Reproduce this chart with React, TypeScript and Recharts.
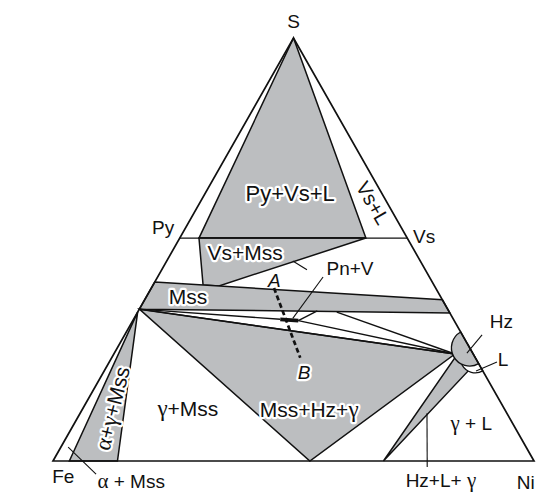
import React from 'react';
import { ScatterChart, Scatter, XAxis, YAxis } from 'recharts';

// Compositions in at.%: [S, Ni]  (Fe = 100 - S - Ni)
type Comp = [number, number];

const CORNER_S: Comp = [100, 0];
const CORNER_FE: Comp = [0, 0];
const CORNER_NI: Comp = [0, 100];

const PY: Comp = [52.7, 0];
const VS: Comp = [52.7, 47.3];
const M0: Comp = [35.9, 0];
const H0: Comp = [25.3, 70.9];

const PY_VS_L: Comp[] = [CORNER_S, [52.7, 4.0], [52.7, 38.7]];
const VS_MSS: Comp[] = [[52.7, 4.0], [52.7, 38.7], [41.4, 13.8], [41.6, 10.4]];
const MSS_BAND: Comp[] = [[42.3, 0], [38.1, 61.9], [35.0, 65.0], M0];
const MSS_HZ_GAMMA: Comp[] = [M0, H0, [0, 53.4]];
const ALPHA_GAMMA_MSS: Comp[] = [[35.2, 0], [0, 3.4], [0, 13.4]];
const HZ_L_GAMMA: Comp[] = [[0, 68.7], [24.8, 71.4], [22.0, 75.9]];
const PN_V: Comp[] = [[33.5, 30.5], [33.2, 34.4]];
const HZ_DIAMETER: Comp[] = [[30.5, 69.5], [23.0, 77.0]];
const L_DIAMETER: Comp[] = [[27.5, 72.5], [21.3, 78.7]];
const SECTION_AB: Comp[] = [[40.9, 25.5], [24.4, 39.2]];

const TIE_LINES: Comp[][] = [
  [PY, VS],
  [M0, PN_V[0]],
  [PN_V[1], [35.5, 37.2]],
  [[35.2, 41.4], H0],
  [PN_V[1], H0],
  [M0, H0],
];

const LEADERS: Comp[][] = [
  [[47.3, 26.2], [45.2, 30.2]],
  [[43.5, 34.4], [33.7, 33.0]],
  [[29.8, 74.3], [25.5, 73.3]],
  [[23.4, 80.6], [21.3, 77.3]],
  [[3.3, 1.5], [-3.1, 10.5]],
  [[11.3, 72.1], [-1.4, 78.5]],
];

const LABEL_TEXTS = [
  'S', 'Py', 'Vs', 'Fe', 'Ni', 'α + Mss', 'α+γ+Mss', 'γ+Mss', 'Mss', 'Vs+Mss',
  'Pn+V', 'A', 'B', 'Py+Vs+L', 'Vs+L', 'Hz', 'L', 'γ + L', 'Hz+L+ γ', 'Mss+Hz+γ',
];
const LABEL_AT: Comp[] = [
  [104.0, -2.0], [55.4, -4.8], [53.3, 50.5], [-3.5, 3.9], [-5.0, 100.8],
  [-4.7, 18.6], [12.5, 6.0], [12.5, 21.8], [38.9, 8.6], [49.3, 15.3],
  [45.7, 38.9], [42.8, 24.6], [21.0, 41.7], [63.4, 17.6], [61.0, 36.0],
  [33.0, 76.7], [24.1, 81.5], [8.9, 82.5], [-4.5, 82.9], [12.3, 47.1],
];

// ---- layout (pixels of the triangle corners inside the 536x492 canvas)
const W = 536;
const H = 492;
const FRAME = { left: 53, right: 534, base: 461, apex: 38 };
const X_DOMAIN = [-FRAME.left / (FRAME.right - FRAME.left), (W - FRAME.left) / (FRAME.right - FRAME.left)];
const Y_DOMAIN = [-(H - FRAME.base) / (FRAME.base - FRAME.apex), FRAME.base / (FRAME.base - FRAME.apex)];

const GRAY = '#bcbec0';
const INK = '#111';
const FONT = '"Liberation Sans", Arial, Helvetica, sans-serif';
const GREEK_FONT = '"Liberation Serif", "Times New Roman", serif';

const toXY = (c: Comp, i = 0) => ({ x: (c[1] + c[0] / 2) / 100, y: c[0] / 100, i });

const noPoint = () => <g />;

const pathOf = (pts: { x: number; y: number }[], closed: boolean) =>
  pts.map((p, i) => `${i ? 'L' : 'M'}${p.x},${p.y}`).join(' ') + (closed ? ' Z' : '');

const polyLine =
  (opts: { fill?: string; stroke?: string; width?: number; closed?: boolean; dash?: string }) =>
  (props: any) =>
    (
      <path
        d={pathOf(props.points, !!opts.closed)}
        fill={opts.fill ?? 'none'}
        stroke={opts.stroke ?? 'none'}
        strokeWidth={opts.width ?? 1}
        strokeDasharray={opts.dash}
        strokeLinejoin="miter"
      />
    );

const halfDisk = (fill: string) => (props: any) => {
  const [p1, p2] = props.points;
  const r = Math.hypot(p2.x - p1.x, p2.y - p1.y) / 2;
  return (
    <path
      d={`M${p1.x},${p1.y} A${r},${r} 0 0 0 ${p2.x},${p2.y} Z`}
      fill={fill}
      stroke={INK}
      strokeWidth={1.4}
    />
  );
};

const HALO = new Set(['Py+Vs+L', 'Vs+Mss', 'Mss', 'α+γ+Mss', 'Mss+Hz+γ', 'B']);
const ITALIC = new Set(['A', 'B']);
const SIZE: Record<string, number> = {
  'Py+Vs+L': 22, 'Vs+Mss': 21, Mss: 21, 'α+γ+Mss': 21, 'Mss+Hz+γ': 21, 'γ+Mss': 21, 'Vs+L': 20,
};
const ROTATION: Record<string, number> = { 'α+γ+Mss': -76, 'Vs+L': 60 };

const runs = (text: string) => {
  const out: { t: string; greek: boolean }[] = [];
  for (const ch of text) {
    const greek = /[αγ]/.test(ch);
    const last = out[out.length - 1];
    if (last && last.greek === greek) last.t += ch;
    else out.push({ t: ch, greek });
  }
  return out;
};

const labelShape = (text: string) => (props: any) => {
  const { cx, cy } = props;
  const rot = ROTATION[text] ?? 0;
  const size = SIZE[text] ?? 19;
  const halo = HALO.has(text);
  return (
    <text
      x={cx}
      y={cy}
      textAnchor="middle"
      dominantBaseline="central"
      fontFamily={FONT}
      fontSize={size}
      fontStyle={ITALIC.has(text) ? 'italic' : 'normal'}
      fill={INK}
      stroke={halo ? '#fff' : 'none'}
      strokeWidth={halo ? 4.5 : 0}
      strokeLinejoin="round"
      paintOrder="stroke"
      style={{ whiteSpace: 'pre' }}
      transform={rot ? `rotate(${rot} ${cx} ${cy})` : undefined}
    >
      {runs(text).map((r, k) => (
        <tspan key={k} fontFamily={r.greek ? GREEK_FONT : FONT} fontSize={r.greek ? size + 2 : size}>
          {r.t}
        </tspan>
      ))}
    </text>
  );
};

const Poly = (key: string, pts: Comp[], line: any) => (
  <Scatter
    key={key}
    data={pts.map(toXY)}
    line={line}
    lineType="joint"
    shape={noPoint}
    isAnimationActive={false}
  />
);

const region = { fill: GRAY, stroke: INK, width: 1.5, closed: true };

export default function App() {
  return (
    <div style={{ position: 'absolute', left: 0, top: 0, width: W, height: H, background: '#fff' }}>
      <ScatterChart width={W} height={H} margin={{ top: 0, right: 0, bottom: 0, left: 0 }}>
        <XAxis type="number" dataKey="x" domain={X_DOMAIN} hide />
        <YAxis type="number" dataKey="y" domain={Y_DOMAIN} hide />

        {Poly('pyvsl', PY_VS_L, polyLine(region))}
        {Poly('vsmss', VS_MSS, polyLine(region))}
        {Poly('mss', MSS_BAND, polyLine(region))}
        {Poly('mhg', MSS_HZ_GAMMA, polyLine(region))}
        {Poly('agm', ALPHA_GAMMA_MSS, polyLine(region))}
        {Poly('hlg', HZ_L_GAMMA, polyLine(region))}

        {TIE_LINES.map((seg, k) => Poly(`tie${k}`, seg, polyLine({ stroke: INK, width: 1.4 })))}

        {Poly('L', L_DIAMETER, halfDisk('#fff'))}
        {Poly('Hz', HZ_DIAMETER, halfDisk(GRAY))}

        {Poly('frame', [CORNER_FE, CORNER_NI, CORNER_S], polyLine({ stroke: INK, width: 1.7, closed: true }))}

        {Poly('pnv', PN_V, polyLine({ stroke: INK, width: 3.8 }))}
        {Poly('ab', SECTION_AB, polyLine({ stroke: INK, width: 2.7, dash: '5 3' }))}

        {LEADERS.map((seg, k) => Poly(`lead${k}`, seg, polyLine({ stroke: INK, width: 1.1 })))}

        {LABEL_TEXTS.map((t, k) => (
          <Scatter
            key={`lab${k}`}
            data={[toXY(LABEL_AT[k], k)]}
            shape={labelShape(t)}
            isAnimationActive={false}
          />
        ))}
      </ScatterChart>
    </div>
  );
}
